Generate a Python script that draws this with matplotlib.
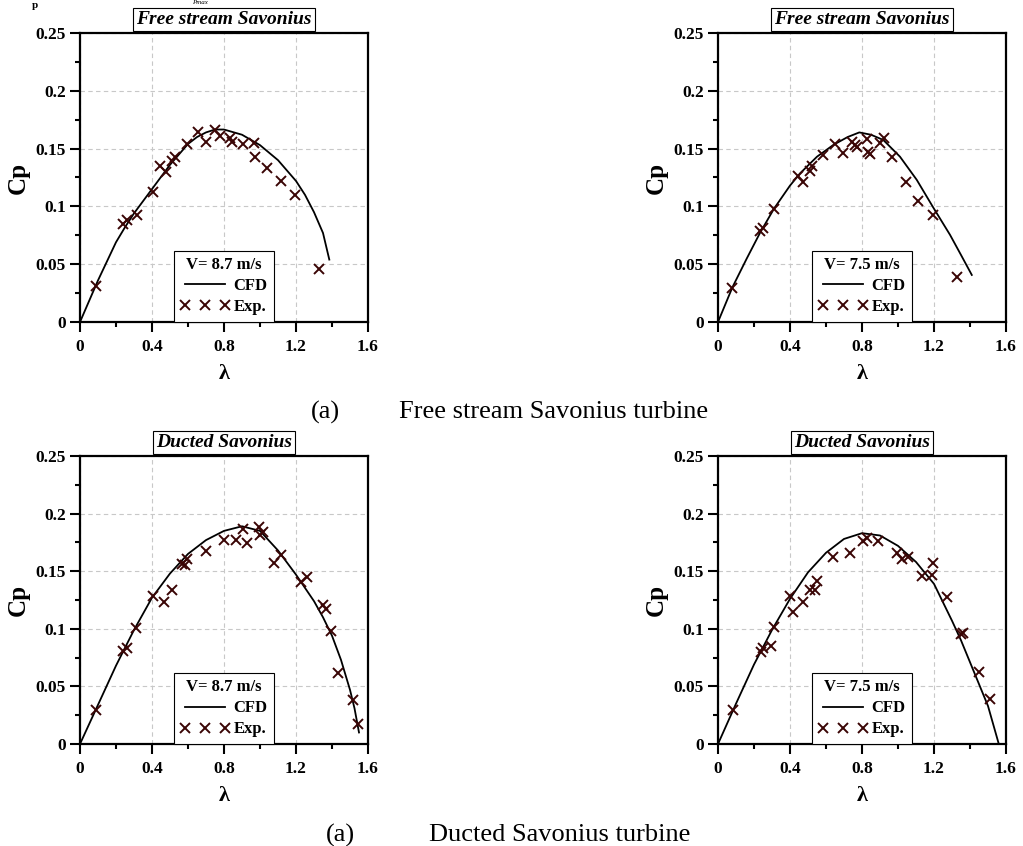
import matplotlib
matplotlib.use("Agg")
import matplotlib.pyplot as plt
from matplotlib.ticker import MultipleLocator

plt.rcParams['font.family'] = ['Liberation Serif', 'DejaVu Serif']

# tick labels
xtick_vals = [0, 0.4, 0.8, 1.2, 1.6]
xtick_labels = ['0', '0.4', '0.8', '1.2', '1.6']
ytick_vals = [0, 0.05, 0.1, 0.15, 0.2, 0.25]
ytick_labels = ['0', '0.05', '0.1', '0.15', '0.2', '0.25']

# free stream, V = 8.7 m/s
fs87_cfd_tsr = [0, 0.1, 0.2, 0.25, 0.3, 0.4, 0.5, 0.6, 0.65, 0.7, 0.75, 0.8, 0.9, 1.0, 1.1, 1.2, 1.25, 1.3,
                1.35, 1.385]
fs87_cfd_cp = [0, 0.036, 0.069, 0.082, 0.094, 0.115, 0.136, 0.154, 0.160, 0.164, 0.1665, 0.1665, 0.162, 0.153,
               0.140, 0.122, 0.110, 0.095, 0.077, 0.054]
fs87_exp_tsr = [0.087, 0.241, 0.259, 0.315, 0.404, 0.444, 0.476, 0.51, 0.53, 0.593, 0.654, 0.70, 0.75,
                0.778, 0.833, 0.843, 0.904, 0.967, 0.972, 1.037, 1.115, 1.194, 1.33]
fs87_exp_cp = [0.031, 0.085, 0.088, 0.0925, 0.1125, 0.135, 0.1295, 0.139, 0.143, 0.154, 0.164, 0.156, 0.166,
               0.161, 0.159, 0.156, 0.154, 0.1545, 0.1425, 0.133, 0.122, 0.110, 0.046]

# free stream, V = 7.5 m/s
fs75_cfd_tsr = [0, 0.08, 0.16, 0.233, 0.311, 0.4, 0.456, 0.55, 0.641, 0.72, 0.785, 0.85, 0.918, 1.011, 1.104,
                1.196, 1.289, 1.35, 1.41]
fs75_cfd_cp = [0, 0.030, 0.055, 0.077, 0.098, 0.118, 0.1286, 0.143, 0.1532, 0.160, 0.164, 0.162, 0.1575, 0.143,
               0.123, 0.099, 0.0754, 0.058, 0.0407]
fs75_exp_tsr = [0.080, 0.233, 0.252, 0.311, 0.443, 0.470, 0.51, 0.52, 0.585, 0.65, 0.696, 0.743, 0.762,
                0.77, 0.83, 0.835, 0.845, 0.90, 0.924, 0.969, 1.043, 1.113, 1.196, 1.33]
fs75_exp_cp = [0.029, 0.0787, 0.081, 0.098, 0.126, 0.121, 0.131, 0.135, 0.1445, 0.1537, 0.146, 0.1554, 0.153,
               0.151, 0.158, 0.1468, 0.145, 0.155, 0.1595, 0.143, 0.121, 0.1047, 0.0926, 0.0392]

# ducted, V = 8.7 m/s
du87_cfd_tsr = [0, 0.1, 0.2, 0.3, 0.4, 0.5, 0.6, 0.7, 0.8, 0.9, 1.0, 1.1, 1.2, 1.3, 1.35, 1.4, 1.45, 1.5,
                1.525, 1.55]
du87_cfd_cp = [0, 0.034, 0.068, 0.099, 0.127, 0.148, 0.165, 0.177, 0.185, 0.189, 0.185, 0.168, 0.147, 0.124,
               0.110, 0.094, 0.073, 0.047, 0.031, 0.01]
du87_exp_tsr = [0.087, 0.241, 0.259, 0.309, 0.407, 0.469, 0.509, 0.565, 0.583, 0.593, 0.698, 0.802, 0.865,
                0.907, 0.926, 0.994, 1.0, 1.019, 1.078, 1.117, 1.226, 1.263, 1.348, 1.367, 1.393, 1.435,
                1.515, 1.546]
du87_exp_cp = [0.0295, 0.0807, 0.0836, 0.101, 0.1285, 0.1233, 0.1337, 0.156, 0.1554, 0.161, 0.1675, 0.1771,
               0.177, 0.1866, 0.1747, 0.1887, 0.1814, 0.1838, 0.1568, 0.164, 0.1403, 0.1453, 0.1207, 0.117,
               0.0984, 0.0619, 0.0382, 0.0174]

# ducted, V = 7.5 m/s
du75_cfd_tsr = [0, 0.1, 0.2, 0.3, 0.4, 0.5, 0.6, 0.7, 0.8, 0.9, 1.0, 1.1, 1.2, 1.3, 1.35, 1.4, 1.45, 1.5, 1.56]
du75_cfd_cp = [0, 0.035, 0.069, 0.099, 0.126, 0.149, 0.166, 0.178, 0.183, 0.181, 0.172, 0.158, 0.139, 0.107,
               0.090, 0.071, 0.052, 0.033, 0.0]
du75_exp_tsr = [0.085, 0.239, 0.252, 0.294, 0.311, 0.40, 0.418, 0.47, 0.511, 0.539, 0.552, 0.637, 0.733,
                0.804, 0.826, 0.891, 0.993, 1.024, 1.057, 1.131, 1.187, 1.196, 1.27, 1.348, 1.361, 1.452,
                1.511]
du75_exp_cp = [0.0295, 0.080, 0.0836, 0.085, 0.1013, 0.1285, 0.1149, 0.1233, 0.1337, 0.134, 0.1412, 0.162,
               0.1655, 0.176, 0.179, 0.176, 0.1655, 0.1606, 0.1626, 0.1458, 0.1467, 0.1568, 0.1279, 0.0952,
               0.096, 0.0628, 0.0388]

W, H = 1023, 846
fig = plt.figure(figsize=(W / 100, H / 100), dpi=100)


def px_rect(x0, y0, x1, y1):
    # pixel box (top-left origin) -> figure fraction rect
    return [x0 / W, 1 - y1 / H, (x1 - x0) / W, (y1 - y0) / H]


def draw_panel(rect, title, speed, cfd_x, cfd_y, exp_x, exp_y):
    ax = fig.add_axes(rect)
    cfd, = ax.plot(cfd_x, cfd_y, color='black', lw=1.3, label='CFD')
    exp, = ax.plot(exp_x, exp_y, ls='none', marker='x', ms=7, mew=1.4, color='#3a0505', label='Exp.')
    ax.set_xlim(0, 1.6)
    ax.set_ylim(0, 0.25)
    ax.set_xticks(xtick_vals)
    ax.set_xticklabels(xtick_labels, fontweight='bold')
    ax.set_yticks(ytick_vals)
    ax.set_yticklabels(ytick_labels, fontweight='bold')
    ax.xaxis.set_minor_locator(MultipleLocator(0.2))
    ax.yaxis.set_minor_locator(MultipleLocator(0.025))
    ax.tick_params(which='major', direction='out', length=7, width=1.5, labelsize=12.5, pad=3)
    ax.tick_params(axis='x', which='major', pad=5)
    ax.tick_params(which='minor', direction='out', length=3.5, width=1.5)
    for sp in ax.spines.values():
        sp.set_linewidth(1.6)
    ax.grid(True, which='major', ls=(0, (4, 3)), color='#c8c8c8', lw=0.8)
    ax.set_axisbelow(True)
    ax.set_xlabel('λ', fontsize=16, fontweight='bold', labelpad=7)
    ax.set_ylabel('Cp', fontsize=18, fontweight='bold', labelpad=4)
    ax.annotate(title, xy=(0.5, 1), xycoords='axes fraction', xytext=(0, 3.6), textcoords='offset points',
                ha='center', va='bottom', fontsize=14, fontweight='bold', style='italic',
                bbox=dict(boxstyle='square,pad=0.15', fc='white', ec='black', lw=0.8))
    leg = ax.legend(handles=[cfd, exp], title='V= %s m/s' % speed, loc='lower center',
                    bbox_to_anchor=(0.5, 0.0), borderaxespad=0, numpoints=3, handlelength=3.0,
                    handletextpad=0.2, labelspacing=0.3, borderpad=0.4, fancybox=False, framealpha=1,
                    edgecolor='black', prop={'weight': 'bold', 'size': 12})
    leg.get_title().set_fontweight('bold')
    leg.get_title().set_fontsize(12)
    leg.get_frame().set_linewidth(0.8)
    return ax


draw_panel(px_rect(80, 33, 368, 322), 'Free stream Savonius', '8.7', fs87_cfd_tsr, fs87_cfd_cp, fs87_exp_tsr, fs87_exp_cp)
draw_panel(px_rect(718, 33, 1006, 322), 'Free stream Savonius', '7.5', fs75_cfd_tsr, fs75_cfd_cp, fs75_exp_tsr, fs75_exp_cp)
draw_panel(px_rect(80, 456, 368, 744), 'Ducted Savonius', '8.7', du87_cfd_tsr, du87_cfd_cp, du87_exp_tsr, du87_exp_cp)
draw_panel(px_rect(718, 456, 1006, 744), 'Ducted Savonius', '7.5', du75_cfd_tsr, du75_cfd_cp, du75_exp_tsr, du75_exp_cp)

# captions under each row
fig.text(325 / W, 1 - 412 / H, '(a)', fontsize=19, ha='center', va='center')
fig.text(399 / W, 1 - 412 / H, 'Free stream Savonius turbine', fontsize=19, ha='left', va='center')
fig.text(340 / W, 1 - 835 / H, '(a)', fontsize=19, ha='center', va='center')
fig.text(429 / W, 1 - 835 / H, 'Ducted Savonius turbine', fontsize=19, ha='left', va='center')

# remains of the previous caption line at the page top
fig.text(35 / W, 1 - 1 / H, 'p', fontsize=8, fontweight='bold', ha='center', va='top')
fig.text(200 / W, 1 - 0.5 / H, 'Pmax', fontsize=5, style='italic', ha='center', va='top')

fig.savefig('out.png', dpi=100)
